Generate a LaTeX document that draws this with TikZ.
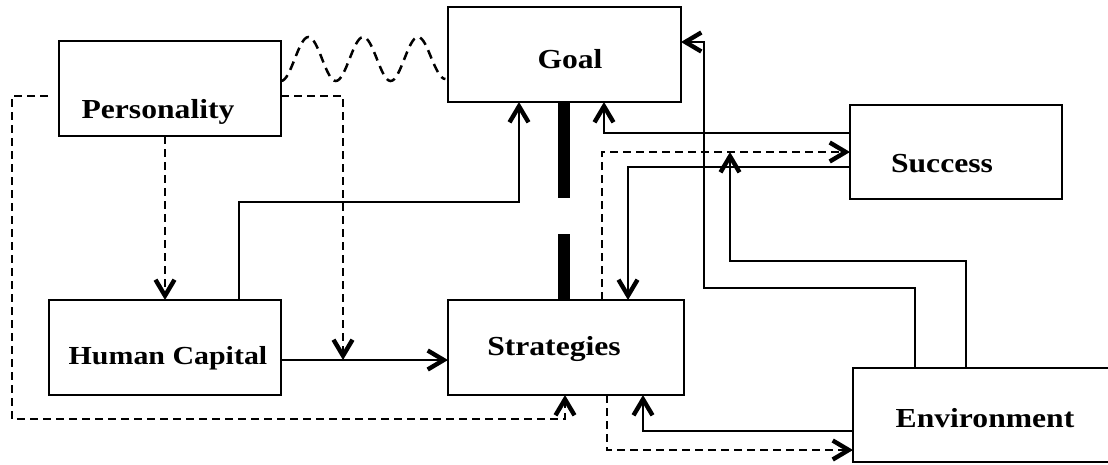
\documentclass[tikz,border=0pt]{standalone}
\usepackage{fontspec}
\setmainfont{Liberation Serif}[FakeStretch=1.15]
\usetikzlibrary{arrows.meta,calc}
\begin{document}
\begin{tikzpicture}[x=1pt,y=-1pt,
  box/.style={draw,line width=1.6pt,inner sep=0pt,outer sep=0pt,minimum width=#1},
  box/.default=232pt,
  lbl/.style={anchor=base,font=\fontsize{27.5}{30}\selectfont\bfseries,inner sep=0pt},
  conn/.style={line width=2.6pt},
  dsh/.style={line width=2.5pt,dash pattern=on 8pt off 5pt},
  arr/.style={-{Straight Barb[length=16pt,width=19pt,line width=4.4pt]}},
  bar/.style={line width=12pt}]
\useasboundingbox (0,0) rectangle (1108,464);
% boxes
\node[box=222pt,minimum height=95pt] (pers) at (170,88.5) {};
\node[box=233pt,minimum height=95pt] (goal) at (564.5,54.5) {};
\node[box=212pt,minimum height=94pt] (succ) at (956,152) {};
\node[box=232pt,minimum height=95pt] (hc) at (165,347.5) {};
\node[box=236pt,minimum height=95pt] (strat) at (566,347.5) {};
\node[box=258pt,minimum height=94pt] (env) at (982,415) {};
% labels
\node[lbl] (perst) at (158,118) {Personality};
\node[lbl] (goalt) at (570,68) {Goal};
\node[lbl] (succt) at (942,172) {Success};
\node[lbl,font=\fontsize{26}{30}\selectfont\bfseries] (hct) at (168,364) {Human Capital};
\node[lbl] (stratt) at (554,355) {Strategies};
\node[lbl] (envt) at (985,427) {Environment};
% coordinates
\coordinate (w1) at (pers.east |- 0,81);
\coordinate (j1) at (343,360);
\coordinate (j2) at (730,152);
% wave
\draw[dsh,dash pattern=on 9pt off 6pt] (w1)
  cos ++(13.7,-22) sin ++(13.7,-22) cos ++(13.7,22) sin ++(13.7,22)
  cos ++(13.7,-22) sin ++(13.7,-22) cos ++(13.7,22) sin ++(13.7,22)
  cos ++(13.7,-22) sin ++(13.7,-22) cos ++(13.7,22) sin ++(13.7,20);
% thick bar
\draw[bar] (goal.south -| 564,0) -- (564,198);
\draw[bar] (564,234) -- (strat.north -| 564,0);
% personality dashed
\draw[dsh,arr] ($(pers.west |- 0,96)+(-11,0)$) -| (12,419) -| (strat.south -| 565,0);
\draw[dsh,arr] (pers.east |- 0,96) -| (j1);
\draw[dsh,arr] (pers.south -| 165,0) -- (hc.north -| 165,0);
% human capital
\draw[conn,arr] (hc.east |- j1) -- (strat.west |- j1);
\draw[conn,arr] (hc.north -| 239,0) |- (519,202) -- (goal.south -| 519,0);
% success -> goal
\draw[conn,arr] (succ.west |- 0,133) -| (goal.south -| 604,0);
% strategies -> success (dashed)
\draw[dsh,arr] (strat.north -| 602,0) |- (succ.west |- j2);
% success -> strategies
\draw[conn,arr] (succ.west |- 0,167) -| (strat.north -| 628,0);
% environment -> goal
\draw[conn,arr] (env.north -| 915,0) |- (704,288) |- (goal.east |- 0,42);
% environment -> moderation
\draw[conn,arr] (env.north -| 966,0) |- (730,261) -- (j2);
% environment -> strategies
\draw[conn,arr] (env.west |- 0,431) -| (strat.south -| 643,0);
% strategies -> environment (dashed)
\draw[dsh,arr] (strat.south -| 607,0) |- (env.west |- 0,450);
\end{tikzpicture}
\end{document}
